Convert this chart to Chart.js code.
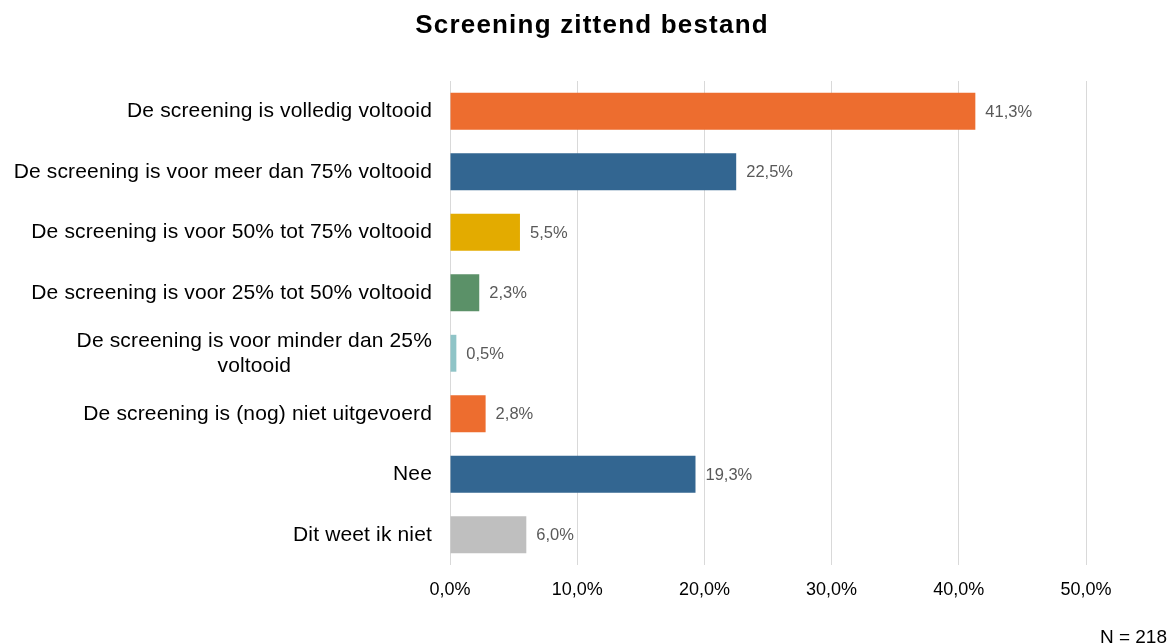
<!DOCTYPE html>
<html>
<head>
<meta charset="utf-8">
<title>Screening zittend bestand</title>
<script src="https://cdn.jsdelivr.net/npm/chart.js@4/dist/chart.umd.min.js"></script>
<style>
  html, body { margin: 0; padding: 0; background: #fff; }
  #wrap { width: 1168px; height: 644px; }
</style>
</head>
<body>
<div id="wrap"><canvas id="screeningChart"></canvas></div>
<script>
const FONT = "'Liberation Sans', Arial, sans-serif";

const chartTitle = 'Screening zittend bestand';
const sampleNote = 'N = 218';

// one entry per bar, top to bottom; a nested array is a label on two lines
const categories = [
    'De screening is volledig voltooid',
    'De screening is voor meer dan 75% voltooid',
    'De screening is voor 50% tot 75% voltooid',
    'De screening is voor 25% tot 50% voltooid',
    ['De screening is voor minder dan 25%', 'voltooid'],
    'De screening is (nog) niet uitgevoerd',
    'Nee',
    'Dit weet ik niet'
];
const percentages = [41.3, 22.5, 5.5, 2.3, 0.5, 2.8, 19.3, 6.0];
const barColors = ['#ED6D2F', '#336691', '#E3AB00', '#5B9168', '#8FC4C7', '#ED6D2F', '#336691', '#BFBFBF'];
const xTickMax = 50;
const xTickStep = 10;

const fmtPct = v => v.toFixed(1).replace('.', ',') + '%';

// category labels, value labels, title and N note
const textPlugin = {
    id: 'screeningText',
    afterDraw(chart) {
        const ctx = chart.ctx;
        const yScale = chart.scales.y;
        const meta = chart.getDatasetMeta(0);
        ctx.save();

        // category labels, right aligned against the plot
        ctx.font = '21px ' + FONT;
        ctx.letterSpacing = '0.15px';
        ctx.fillStyle = '#000';
        ctx.textBaseline = 'middle';
        categories.forEach((lab, i) => {
            const y = yScale.getPixelForTick(i);
            const right = chart.chartArea.left - 18;
            if (Array.isArray(lab)) {
                const widest = Math.max(...lab.map(l => ctx.measureText(l).width));
                const cx = right - widest / 2;
                const lh = 25;
                ctx.textAlign = 'center';
                lab.forEach((l, k) => {
                    ctx.fillText(l, cx, y + (k - (lab.length - 1) / 2) * lh);
                });
            } else {
                ctx.textAlign = 'right';
                ctx.fillText(lab, right, y);
            }
        });
        ctx.letterSpacing = '0px';

        // value labels at the bar ends
        ctx.font = '16.5px ' + FONT;
        ctx.fillStyle = '#595959';
        ctx.textAlign = 'left';
        meta.data.forEach((bar, i) => {
            ctx.fillText(fmtPct(percentages[i]), bar.x + 10, bar.y + 1);
        });

        // title
        ctx.font = 'bold 26px ' + FONT;
        ctx.fillStyle = '#000';
        ctx.textAlign = 'center';
        ctx.textBaseline = 'alphabetic';
        ctx.letterSpacing = '1.2px';
        ctx.fillText(chartTitle, 592, 33);
        ctx.letterSpacing = '0px';

        // sample size
        ctx.font = '19px ' + FONT;
        ctx.textAlign = 'right';
        ctx.fillText(sampleNote, 1167, 643);

        ctx.restore();
    }
};

const ctx = document.getElementById('screeningChart').getContext('2d');
const screeningChart = new Chart(ctx, {
    type: 'bar',
    data: {
        labels: categories,
        datasets: [{
            data: percentages,
            backgroundColor: barColors,
            borderWidth: 0,
            barPercentage: 0.61,
            categoryPercentage: 1.0
        }]
    },
    options: {
        indexAxis: 'y',
        responsive: true,
        maintainAspectRatio: false,
        animation: false,
        layout: {
            padding: { top: 81, right: 82, bottom: 29, left: 0 }
        },
        scales: {
            x: {
                min: 0,
                max: xTickMax,
                ticks: {
                    stepSize: xTickStep,
                    padding: 14,
                    color: '#000',
                    font: { family: FONT, size: 18 },
                    callback: v => fmtPct(v)
                },
                grid: {
                    color: '#D9D9D9',
                    lineWidth: 1,
                    drawTicks: false
                },
                border: { display: false },
                afterFit(scale) { scale.height = 50; }
            },
            y: {
                ticks: { display: false },
                grid: { display: false },
                border: { display: false },
                afterFit(scale) { scale.width = 450; }
            }
        },
        plugins: {
            legend: { display: false },
            title: { display: false },
            tooltip: { enabled: false }
        }
    },
    plugins: [textPlugin]
});
</script>
</body>
</html>
